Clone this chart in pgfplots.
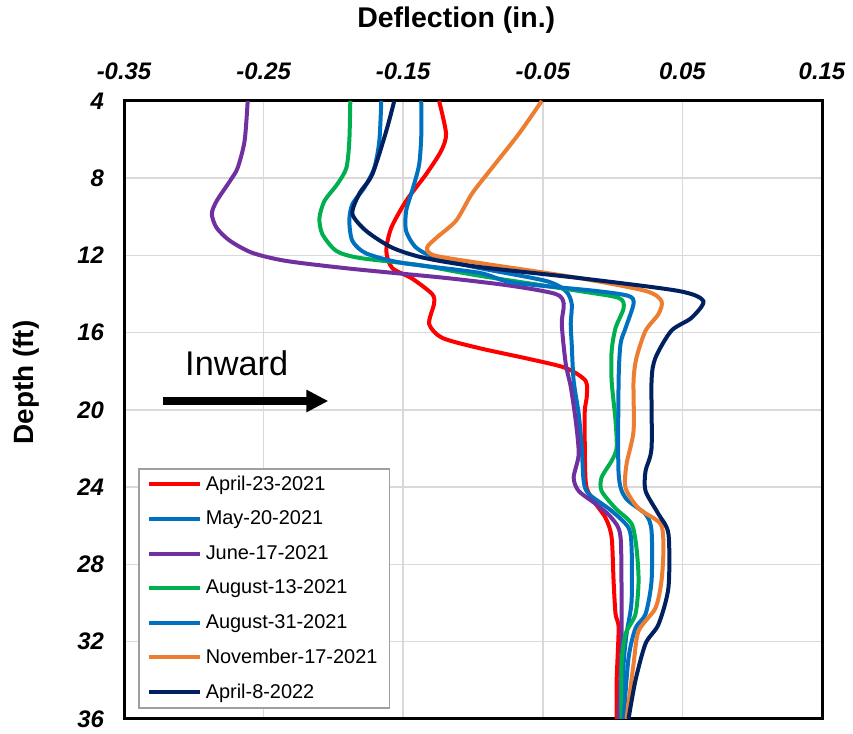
\documentclass[border=0pt]{standalone}
\usepackage{pgfplots}
\pgfplotsset{compat=1.18}
\usepackage{fontspec}
\setmainfont{Liberation Sans}
\usetikzlibrary{arrows.meta}

\definecolor{cRed}{HTML}{FF0000}
\definecolor{cBlue}{HTML}{0070C0}
\definecolor{cPurple}{HTML}{7030A0}
\definecolor{cGreen}{HTML}{00B050}
\definecolor{cOrange}{HTML}{ED7D31}
\definecolor{cNavy}{HTML}{002060}
\definecolor{cGrid}{HTML}{D9D9D9}

\begin{document}
\begin{tikzpicture}
\begin{axis}[
    width=349bp, height=309bp, scale only axis,
    xmin=-0.35, xmax=0.15,
    ymin=4, ymax=36,
    y dir=reverse,
    xtick={-0.35,-0.25,-0.15,-0.05,0.05,0.15},
    xticklabels={-0.35,-0.25,-0.15,-0.05,0.05,0.15},
    ytick={4,8,12,16,20,24,28,32,36},
    yticklabels={4,8,12,16,20,24,28,32,36},
    xticklabel pos=right,
    major tick length=0pt,
    grid=major,
    major grid style={cGrid, line width=0.8bp},
    axis line style={black, line width=1.5bp},
    tick label style={font=\fontsize{12}{14}\selectfont\bfseries\itshape},
    xticklabel style={yshift=7bp},
    yticklabel style={xshift=-6.5bp},
    xlabel={Deflection (in.)},
    ylabel={Depth (ft)},
    xlabel style={at={(axis description cs:0.476,1.131)}, anchor=center,
      font=\fontsize{14.3}{16}\selectfont\bfseries},
    ylabel style={at={(axis description cs:-0.14,0.5445)}, anchor=center,
      font=\fontsize{14}{16}\selectfont\bfseries},
    every axis plot/.append style={line width=2bp, smooth, tension=0.45, no markers},
    legend style={at={(0.02,0.406)}, anchor=north west, draw=gray!75, line width=0.8bp,
      font=\fontsize{10}{12}\selectfont, row sep=4.8bp, inner xsep=4bp, inner ysep=1.5bp},
    legend cell align=left,
    legend image code/.code={\draw[#1, line width=2bp] (0cm,0cm) -- (0.9cm,0cm);},
]
% April-23-2021
\addplot[cRed] table {
-0.1243 4
-0.1193 5.7
-0.1229 6.6
-0.1336 7.8
-0.1479 9.18
-0.1586 10.58
-0.1621 11.77
-0.1579 12.65
-0.1436 13.2
-0.1293 14.0
-0.1279 14.5
-0.1314 15.55
-0.1221 16.27
-0.0957 16.8
-0.0600 17.36
-0.0336 17.83
-0.0193 18.5
-0.0186 19.4
-0.0200 20.2
-0.0193 23.7
-0.0150 24.56
-0.0050 25.6
-0.0007 26.6
0.0007 28.86
0.0021 30.57
0.0043 31.3
0.0029 34.0
0.0029 36
};
% May-20-2021
\addplot[cBlue] table {
-0.1371 4
-0.1370 5.7
-0.1386 7.3
-0.1436 8.66
-0.1479 9.7
-0.1479 10.74
-0.1407 11.6
-0.1264 12.13
-0.0957 12.65
-0.0479 13.32
-0.0336 13.84
-0.0293 14.5
-0.0300 15.55
-0.0293 16.58
-0.0279 18.5
-0.0243 20.2
-0.0221 21.97
-0.0207 23.7
-0.0171 24.35
-0.0007 25.23
0.0114 26.1
0.0136 27.15
0.0136 29.9
0.0100 31.6
0.0079 33.16
0.0071 36
};
% June-17-2021
\addplot[cPurple] table {
-0.2614 4
-0.2636 6.07
-0.2686 7.47
-0.2740 8.14
-0.2836 9.18
-0.2871 9.85
-0.2836 10.58
-0.2740 11.25
-0.2580 11.87
-0.2336 12.29
-0.1864 12.7
-0.1193 13.17
-0.0721 13.58
-0.0407 14.0
-0.0350 14.5
-0.0364 15.55
-0.0336 17.6
-0.0300 18.8
-0.0264 20.57
-0.0243 22.3
-0.0279 23.5
-0.0243 24.2
-0.0121 24.87
-0.0007 25.6
0.0057 26.6
0.0064 30.6
0.0064 32.3
0.0043 36
};
% August-13-2021
\addplot[cGreen] table {
-0.1879 4
-0.1886 6.07
-0.1907 7.47
-0.1971 8.3
-0.2064 9.18
-0.2100 10.06
-0.2079 10.9
-0.1979 11.77
-0.1814 12.13
-0.1386 12.5
-0.0957 13.05
-0.0243 13.84
0.0043 14.2
0.0079 14.72
0.0021 15.76
-0.0007 16.95
-0.0007 18.5
0.0021 20.57
0.0029 21.97
-0.0007 22.64
-0.0079 23.5
-0.0079 24.2
0.0021 25.1
0.0136 25.9
0.0171 27.15
0.0186 28.86
0.0164 30.57
0.0093 31.6
0.0064 33.16
0.0064 36
};
% August-31-2021
\addplot[cBlue] table {
-0.1657 4
-0.1671 6.07
-0.1707 7.47
-0.1779 8.5
-0.1864 9.35
-0.1886 10.2
-0.1864 11.25
-0.1764 11.9
-0.1507 12.39
-0.0957 12.9
-0.0721 13.4
-0.0121 13.84
0.0114 14.1
0.0150 14.5
0.0093 15.76
0.0057 16.58
0.0043 18.5
0.0043 23.3
0.0093 24.56
0.0236 25.4
0.0279 26.27
0.0279 28.86
0.0236 30.57
0.0164 31.3
0.0114 32.85
0.0079 36
};
% November-17-2021
\addplot[cOrange] table {
-0.0507 4
-0.0671 5.7
-0.0864 7.47
-0.1007 8.8
-0.1121 10.2
-0.1264 11.1
-0.1329 11.6
-0.1279 12.0
-0.0957 12.39
-0.0243 13.17
0.0236 13.84
0.0350 14.36
0.0329 15.03
0.0236 15.9
0.0171 17.3
0.0150 18.5
0.0150 21.1
0.0100 22.8
0.0093 24.04
0.0186 25.1
0.0343 25.9
0.0364 27.15
0.0350 28.86
0.0307 30.26
0.0186 31.45
0.0150 33.16
0.0100 36
};
% April-8-2022
\addplot[cNavy] table {
-0.1564 4
-0.1621 5.55
-0.1721 7.8
-0.1814 8.8
-0.1864 9.85
-0.1764 10.74
-0.1579 11.6
-0.1350 12.13
-0.0957 12.6
-0.0243 13.17
0.0471 13.84
0.0650 14.36
0.0564 15.24
0.0421 15.9
0.0307 17.3
0.0279 18.5
0.0279 21.97
0.0236 23.16
0.0236 24.2
0.0329 25.4
0.0400 26.42
0.0400 29.2
0.0329 31.1
0.0236 32.1
0.0164 34.0
0.0114 36
};
\legend{April-23-2021, May-20-2021, June-17-2021, August-13-2021, August-31-2021, November-17-2021, April-8-2022}
\node[font=\fontsize{17.2}{20}\selectfont] at (axis cs:-0.2693,17.6) {Inward};
\draw[line width=4bp, -{Triangle[length=11bp, width=10.5bp]}] (axis cs:-0.3221,19.54) -- (axis cs:-0.2036,19.54);
\end{axis}
\path ([shift={(-62bp,-6.5bp)}]current axis.south west) rectangle ([shift={(15.5bp,50bp)}]current axis.north east);
\end{tikzpicture}
\end{document}
